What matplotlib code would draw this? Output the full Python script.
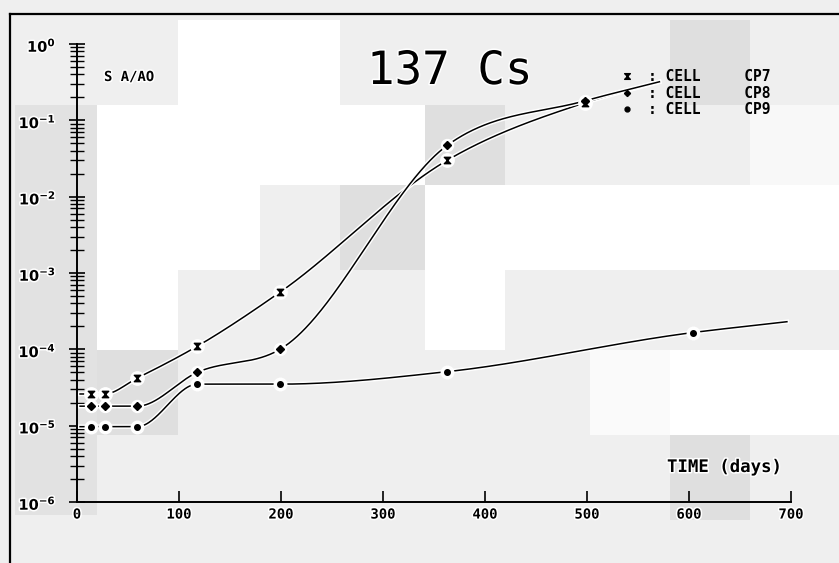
import numpy as np
import matplotlib
matplotlib.use("Agg")
import matplotlib.pyplot as plt
from matplotlib.lines import Line2D
from matplotlib.patches import Rectangle
from matplotlib.path import Path
import matplotlib.patheffects as pe

# ---- data: relative activity S A/A0 versus time (days) ----
cp7_days = [3, 14, 27, 59, 118, 199, 363, 498, 571]
cp7_vals = [2.6e-5, 2.6e-5, 2.6e-5, 4.2e-5, 1.1e-4, 5.6e-4, 3.0e-2, 0.17, 0.32]

cp8_days = [3, 14, 27, 59, 118, 199, 363, 498, 571]
cp8_vals = [1.8e-5, 1.8e-5, 1.8e-5, 1.8e-5, 5.0e-5, 1.0e-4, 4.7e-2, 0.18, 0.32]

cp9_days = [3, 14, 27, 59, 118, 199, 363, 604, 696]
cp9_vals = [9.7e-6, 9.7e-6, 9.7e-6, 9.7e-6, 3.5e-5, 3.5e-5, 5.1e-5, 1.66e-4, 2.3e-4]

# the last point of each curve is only where the pen stopped
n_marked = {"CP7": 8, "CP8": 8, "CP9": 8}

x_ticks = [0, 100, 200, 300, 400, 500, 600, 700]
y_decades = [-6, -5, -4, -3, -2, -1, 0]

W, H = 839, 563
BG = "#efefef"


def fx(x):
    return x / W


def fy(y):
    return 1 - y / H


def smooth_curve(x, y, xs):
    """Piecewise cubic Hermite curve; tangents are the mean of the adjacent
    secants, clipped so that flat stretches stay flat (no overshoot)."""
    x = np.asarray(x, float)
    y = np.asarray(y, float)
    h = np.diff(x)
    d = np.diff(y) / h
    n = len(x)
    m = np.zeros(n)
    for k in range(1, n - 1):
        if d[k - 1] * d[k] > 0:
            mean = (d[k - 1] * h[k] + d[k] * h[k - 1]) / (h[k - 1] + h[k])
            lim = 3 * min(abs(d[k - 1]), abs(d[k]))
            m[k] = np.sign(mean) * min(abs(mean), lim)
    m[0] = d[0]
    m[-1] = d[-1]
    idx = np.clip(np.searchsorted(x, xs) - 1, 0, n - 2)
    t = (xs - x[idx]) / h[idx]
    h00 = 2 * t**3 - 3 * t**2 + 1
    h10 = t**3 - 2 * t**2 + t
    h01 = -2 * t**3 + 3 * t**2
    h11 = t**3 - t**2
    return (h00 * y[idx] + h10 * h[idx] * m[idx]
            + h01 * y[idx + 1] + h11 * h[idx] * m[idx + 1])


fig = plt.figure(figsize=(W / 100, H / 100), dpi=100, facecolor=BG)

# uneven paper shading of the scanned sheet
blocks = [
    (178, 20, 340, 105, "#ffffff"),
    (97, 105, 425, 185, "#ffffff"),
    (97, 185, 260, 270, "#ffffff"),
    (425, 185, 839, 270, "#ffffff"),
    (97, 270, 178, 350, "#ffffff"),
    (425, 270, 505, 350, "#ffffff"),
    (590, 350, 670, 435, "#fafafa"),
    (670, 350, 839, 435, "#ffffff"),
    (750, 105, 839, 185, "#f8f8f8"),
    (670, 20, 750, 105, "#dfdfdf"),
    (425, 105, 505, 185, "#dfdfdf"),
    (340, 185, 425, 270, "#dfdfdf"),
    (15, 105, 97, 515, "#e2e2e2"),
    (97, 350, 178, 435, "#dfdfdf"),
    (670, 435, 750, 520, "#dfdfdf"),
]
for x0, y0, x1, y1, c in blocks:
    fig.patches.append(Rectangle((fx(x0), fy(y1)), fx(x1 - x0), (y1 - y0) / H,
                                 transform=fig.transFigure, facecolor=c,
                                 edgecolor="none", zorder=-5))

# sheet border (top and left edges)
fig.add_artist(Line2D([fx(10), fx(839)], [fy(14), fy(14)], color="black",
                      lw=1.6, transform=fig.transFigure, zorder=3))
fig.add_artist(Line2D([fx(10), fx(10)], [fy(14), fy(563)], color="black",
                      lw=1.6, transform=fig.transFigure, zorder=3))

ax = fig.add_axes([fx(77), fy(502), fx(791 - 77), (502 - 44) / H])
ax.set_zorder(2)
ax.set_facecolor("none")
ax.set_yscale("log")
ax.set_xlim(x_ticks[0], x_ticks[-1])
ax.set_ylim(10.0 ** y_decades[0], 10.0 ** y_decades[-1])

halo = [pe.withStroke(linewidth=3.2, foreground="white")]
text_halo = [pe.withStroke(linewidth=2.2, foreground="white")]

hourglass = Path([(-1, 1), (1, 1), (-1, -1), (1, -1), (-1, 1)],
                 [Path.MOVETO, Path.LINETO, Path.LINETO, Path.LINETO,
                  Path.CLOSEPOLY])

series = [
    ("CP7", cp7_days, cp7_vals, hourglass, 4.6),
    ("CP8", cp8_days, cp8_vals, "D", 3.6),
    ("CP9", cp9_days, cp9_vals, "o", 4.0),
]

handles = []
for name, days, vals, mk, ms in series:
    xs = np.linspace(days[0], days[-1], 700)
    ys = 10 ** smooth_curve(days, np.log10(vals), xs)
    ax.plot(xs, ys, color="black", lw=1.1, zorder=3, path_effects=halo)
    k = n_marked[name]
    ax.plot(days[1:k], vals[1:k], linestyle="none", marker="o", ms=ms + 5,
            color="white", zorder=4)
    ax.plot(days[1:k], vals[1:k], linestyle="none", marker=mk, ms=ms,
            color="black", zorder=5)
    handles.append(Line2D([], [], linestyle="none", marker=mk, ms=ms - 0.5,
                          color="black"))

# axes styling
for s in ("top", "right"):
    ax.spines[s].set_visible(False)
for s in ("left", "bottom"):
    ax.spines[s].set_linewidth(1.4)
    ax.spines[s].set_zorder(6)

mono = "DejaVu Sans Mono"
ax.set_xticks(x_ticks)
ax.set_xticklabels([str(v) for v in x_ticks], family=mono, fontsize=10,
                   fontweight="bold")
ax.tick_params(axis="x", direction="in", length=8, width=1.2, pad=4)

ax.set_yticks([10.0 ** d for d in y_decades])
ax.set_yticklabels([r"$\mathbf{10^{%d}}$" % d for d in y_decades], fontsize=10.5)
ax.tick_params(axis="y", which="major", direction="inout", length=12,
               width=1.2, pad=9)
ax.tick_params(axis="y", which="minor", direction="inout", length=10,
               width=1.0)
ax.yaxis.set_minor_locator(matplotlib.ticker.LogLocator(base=10,
                                                         subs=np.arange(2, 10)))
ax.yaxis.set_minor_formatter(matplotlib.ticker.NullFormatter())
for lab in ax.get_xticklabels() + ax.get_yticklabels():
    lab.set_path_effects(text_halo)

# annotations
fig.text(fx(367), fy(84), "137 Cs", family=mono, fontsize=33, va="baseline",
         ha="left", path_effects=text_halo, zorder=4)
fig.text(fx(104), fy(81), "S A/AO", family=mono, fontsize=10,
         fontweight="bold", va="baseline", ha="left", path_effects=text_halo,
         zorder=4)
fig.text(fx(667), fy(472), "TIME (days)", family=mono, fontsize=12.5,
         fontweight="bold", va="baseline", ha="left", path_effects=text_halo,
         zorder=4)

leg = ax.legend(handles, [": CELL     CP7", ": CELL     CP8", ": CELL     CP9"],
                loc="upper left", bbox_to_anchor=(fx(622), fy(69)),
                bbox_transform=fig.transFigure, frameon=False,
                prop={"family": mono, "size": 10.5, "weight": "bold"},
                handlelength=0.7, handletextpad=1.1, labelspacing=0.12,
                borderpad=0, borderaxespad=0)
leg.set_zorder(7)

fig.savefig("out.png", dpi=100, facecolor=BG)
